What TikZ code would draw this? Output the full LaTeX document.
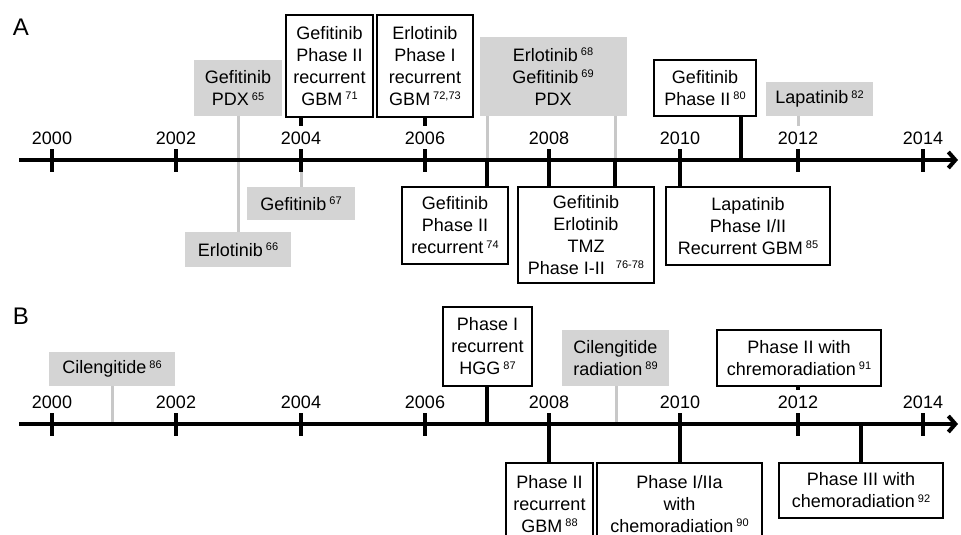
\documentclass[tikz,border=0pt]{standalone}
\usepackage{fontspec}
\setmainfont{Liberation Sans}
\usetikzlibrary{arrows.meta}
\definecolor{boxgray}{RGB}{212,212,212}
\definecolor{linegray}{RGB}{200,200,200}
\newcommand{\refno}[1]{\,\raisebox{5.5pt}{\fontsize{11}{11}\selectfont #1}}
\tikzset{
  evbox/.style={draw, line width=2pt, fill=white, align=center, inner sep=0pt},
  grbox/.style={fill=boxgray, align=center, inner sep=0pt},
  yearlbl/.style={inner sep=0pt, outer sep=6pt},
  bline/.style={line width=3.5pt},
  gline/.style={line width=3pt, draw=linegray},
  axisline/.style={line width=4pt, -{Straight Barb[length=7pt,width=16pt]}},
  tickline/.style={line width=4pt},
  panel/.style={font=\fontsize{24}{24}\selectfont}
}
\begin{document}
\begin{tikzpicture}[x=1pt,y=-1pt,font=\fontsize{18}{22}\selectfont]
\useasboundingbox (0,0) rectangle (961,535);
\clip (0,0) rectangle (961,535);
\node[panel] (pA) at (21,27) {A};
\node[panel] (pB) at (21,316) {B};

\node[yearlbl] (a2000) at (52,138) {2000};
\node[yearlbl] (a2002) at (176,138) {2002};
\node[yearlbl] (a2004) at (301,138) {2004};
\node[yearlbl] (a2006) at (425,138) {2006};
\node[yearlbl] (a2008) at (549,138) {2008};
\node[yearlbl] (a2010) at (680,138) {2010};
\node[yearlbl] (a2012) at (798,138) {2012};
\node[yearlbl] (a2014) at (923,138) {2014};
\node[yearlbl] (b2000) at (52,402) {2000};
\node[yearlbl] (b2002) at (176,402) {2002};
\node[yearlbl] (b2004) at (301,402) {2004};
\node[yearlbl] (b2006) at (425,402) {2006};
\node[yearlbl] (b2008) at (549,402) {2008};
\node[yearlbl] (b2010) at (680,402) {2010};
\node[yearlbl] (b2012) at (798,402) {2012};
\node[yearlbl] (b2014) at (923,402) {2014};

\coordinate (A0) at (19,160);
\coordinate (A1) at (958,160);
\coordinate (A2003) at (238,160);
\coordinate (A2004) at (301,160);
\coordinate (A2007) at (487,160);
\coordinate (A2008) at (549,160);
\coordinate (A2009) at (615,160);
\coordinate (A2010) at (680,160);
\coordinate (A2011) at (741,160);
\coordinate (B0) at (19,424);
\coordinate (B1) at (958,424);
\coordinate (B2001) at (112,424);
\coordinate (B2007) at (487,424);
\coordinate (B2008) at (549,424);
\coordinate (B2009) at (616,424);
\coordinate (B2010) at (680,424);
\coordinate (B2013) at (861,424);

\node[grbox, minimum width=88, minimum height=56] (pdx65) at (238,88) {Gefitinib\\PDX\refno{65}};
\node[grbox, minimum width=106, minimum height=35] (erl66) at (238,249.5) {Erlotinib\refno{66}};
\node[grbox, minimum width=108, minimum height=33] (gef67) at (301,203.5) {Gefitinib\refno{67}};
\node[evbox, minimum width=87, minimum height=102] (gef71) at (329.5,66) {Gefitinib\\Phase II\\recurrent\\GBM\refno{71}};
\node[evbox, minimum width=96, minimum height=102] (erl72) at (425,66) {Erlotinib\\Phase I\\recurrent\\GBM\refno{72,73}};
\node[grbox, minimum width=147, minimum height=79] (pdx68) at (553,76.5) {Erlotinib\refno{68}\\Gefitinib\refno{69}\\PDX};
\node[evbox, minimum width=102, minimum height=56] (gef80) at (705,88) {Gefitinib\\Phase II\refno{80}};
\node[grbox, minimum width=107, minimum height=34] (lap82) at (819.5,99) {Lapatinib\refno{82}};
\node[evbox, minimum width=106, minimum height=77] (gef74) at (455,225.5) {Gefitinib\\Phase II\\recurrent\refno{74}};
\node[evbox, minimum width=136, minimum height=96] (tmz76) at (586,235) {Gefitinib\\Erlotinib\\TMZ\\Phase I-II\hspace{8pt}\refno{76-78}};
\node[evbox, minimum width=164, minimum height=78] (lap85) at (748,226) {Lapatinib\\Phase I/II\\Recurrent GBM\refno{85}};

\node[grbox, minimum width=126, minimum height=34] (cil86) at (112,369) {Cilengitide\refno{86}};
\node[evbox, minimum width=89, minimum height=79] (hgg87) at (487.5,346.5) {Phase I\\recurrent\\HGG\refno{87}};
\node[grbox, minimum width=107, minimum height=56] (rad89) at (615.5,358) {Cilengitide\\radiation\refno{89}};
\node[evbox, minimum width=164, minimum height=56] (chr91) at (799,358) {Phase II with\\chremoradiation\refno{91}};
\node[evbox, minimum width=87, minimum height=82] (gbm88) at (549.5,504) {Phase II\\recurrent\\GBM\refno{88}};
\node[evbox, minimum width=165, minimum height=82] (chr90) at (679.5,504) {Phase I/IIa\\with\\chemoradiation\refno{90}};
\node[evbox, minimum width=164, minimum height=55] (chr92) at (861,490.5) {Phase III with\\chemoradiation\refno{92}};

\draw[gline] (pdx65.south) -- (erl66.north);
\draw[gline] (A2004) -- (gef67.north);
\draw[bline] (a2004.north |- gef71.south) -- (a2004.north);
\draw[bline] (erl72.south) -- (a2006.north);
\draw[gline] (A2007 |- pdx68.south) -- (A2007);
\draw[gline] (A2009 |- pdx68.south) -- (A2009);
\draw[bline] (A2007) -- (A2007 |- gef74.north);
\draw[bline] (A2008) -- (A2008 |- tmz76.north);
\draw[bline] (A2009) -- (A2009 |- tmz76.north);
\draw[bline] (A2011 |- gef80.south) -- (A2011);
\draw[gline] (a2012.north |- lap82.south) -- (a2012.north);
\draw[bline] (A2010) -- (A2010 |- lap85.north);

\draw[gline] (cil86.south) -- (B2001);
\draw[bline] (B2007 |- hgg87.south) -- (B2007);
\draw[gline] (B2009 |- rad89.south) -- (B2009);
\draw[bline] (b2012.north |- chr91.south) -- (b2012.north);
\draw[bline] (B2008) -- (B2008 |- gbm88.north);
\draw[bline] (B2010) -- (B2010 |- chr90.north);
\draw[bline] (B2013) -- (B2013 |- chr92.north);

\draw[axisline] (A0) -- (A1);
\draw[axisline] (B0) -- (B1);
\draw[tickline] (52,149) -- (52,172) (176,149) -- (176,172) (301,149) -- (301,172) (425,149) -- (425,172)
  (549,149) -- (549,172) (680,149) -- (680,172) (798,149) -- (798,172) (923,149) -- (923,172);
\draw[tickline] (52,413) -- (52,436) (176,413) -- (176,436) (301,413) -- (301,436) (425,413) -- (425,436)
  (549,413) -- (549,436) (680,413) -- (680,436) (798,413) -- (798,436) (923,413) -- (923,436);
\end{tikzpicture}
\end{document}
